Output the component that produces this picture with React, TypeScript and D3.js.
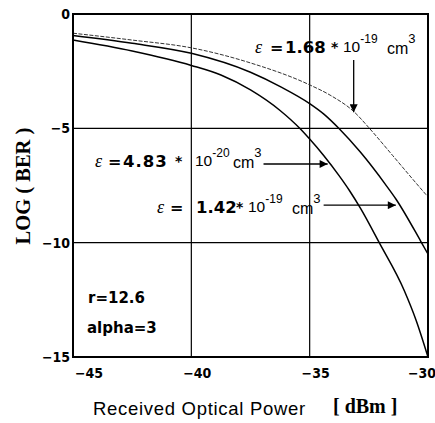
import React from "react";
import * as d3 from "d3";

// axis ticks
const xTicks = [-45, -40, -35, -30];
const yTicks = [0, -5, -10, -15];
const xGrid = [-40, -35];
const yGrid = [-5, -10];

// eps = 1.68e-19 cm^3 (thin dashed curve)
const powerA = [-45, -42.5, -40, -37.5, -35, -34.1, -33.1, -32.5, -31.5, -30.5, -30];
const berA = [-0.84, -1.14, -1.48, -2.14, -3.1, -3.57, -4.3, -4.97, -6.18, -7.4, -8.0];

// eps = 1.42e-19 cm^3
const powerB = [-45, -42.5, -40, -37.5, -36.2, -35, -34.4, -33.75, -32.85, -31.8, -31.35, -30.3, -30];
const berB = [-0.94, -1.28, -1.72, -2.55, -3.2, -3.92, -4.38, -5.02, -6.05, -7.45, -8.1, -9.95, -10.5];

// eps = 4.83e-20 cm^3
const powerC = [-45, -42.5, -40, -38.75, -37.5, -36.25, -35.4, -35, -34.4, -33.75, -33.3, -32.85, -32.06, -31.0, -30.5, -30];
const berC = [-1.14, -1.62, -2.25, -2.67, -3.32, -4.22, -5.02, -5.47, -6.2, -7.08, -7.75, -8.5, -10.0, -12.1, -13.4, -15.0];

const x = d3.scaleLinear().domain([-45, -30]).range([73, 428]);
const y = d3.scaleLinear().domain([0, -15]).range([14, 357]);

const line = d3
  .line<[number, number]>()
  .x(d => x(d[0]))
  .y(d => y(d[1]))
  .curve(d3.curveMonotoneX);

const zip = (a: number[], b: number[]) => a.map((v, i) => [v, b[i]] as [number, number]);

const fmt = d3.format("d");

const bold = "'DejaVu Sans', sans-serif";
const plain = "'Liberation Sans', Arial, sans-serif";
const tickFont = "'Liberation Sans Narrow', 'DejaVu Sans Condensed', 'Liberation Sans', sans-serif";

// annotation arrows in data units: [x1, y1, x2, y2]
const arrows = [
  [-33.14, -2.01, -33.14, -4.3],
  [-36.95, -6.56, -34.24, -6.56],
  [-34.41, -8.36, -31.36, -8.36],
];

const Eps = ({ px, base, eq, eqX, val, valX, valSp, starX, tenX, exp, cmX }: any) => (
  <g>
    <text x={px} y={base} fontFamily="'Liberation Serif', serif" fontStyle="italic" fontSize={18}>ε</text>
    <text x={eqX} y={base} fontFamily={bold} fontWeight="bold" fontSize={16}>{eq}</text>
    <text x={valX} y={base} fontFamily={bold} fontWeight="bold" fontSize={16.5} letterSpacing={valSp || 0}>{val}</text>
    <text x={starX} y={base - 1} fontFamily={bold} fontWeight="bold" fontSize={14}>*</text>
    <text x={tenX} y={base - 1} fontFamily={plain} fontSize={15.5}>
      10
      <tspan dy={-9} fontSize={12}>{exp}</tspan>
    </text>
    <text x={cmX} y={base + 1} fontFamily={plain} fontSize={16}>
      cm
      <tspan dy={-11} fontSize={13}>3</tspan>
    </text>
  </g>
);

const App = () => {
  return (
    <svg width={435} height={423} style={{ position: "absolute", left: 0, top: 0, background: "#fff" }}>
      <defs>
        <marker id="head" viewBox="0 0 10 10" refX="10" refY="5" markerWidth="9" markerHeight="8" orient="auto" markerUnits="userSpaceOnUse">
          <path d="M0,0 L10,5 L0,10 Z" fill="#000" />
        </marker>
      </defs>

      {/* grid */}
      {xGrid.map(t => (
        <line key={"gx" + t} x1={x(t)} x2={x(t)} y1={y(0)} y2={y(-15)} stroke="#000" strokeWidth={1.2} />
      ))}
      {yGrid.map(t => (
        <line key={"gy" + t} x1={x(-45)} x2={x(-30)} y1={y(t)} y2={y(t)} stroke="#000" strokeWidth={1.2} />
      ))}

      {/* curves */}
      <path d={line(zip(powerA, berA)) || ""} fill="none" stroke="#333" strokeWidth={1} strokeDasharray="4,1.5" />
      <path d={line(zip(powerB, berB)) || ""} fill="none" stroke="#000" strokeWidth={1.5} />
      <path d={line(zip(powerC, berC)) || ""} fill="none" stroke="#000" strokeWidth={1.5} />

      {/* frame */}
      <rect x={x(-45)} y={y(0)} width={x(-30) - x(-45)} height={y(-15) - y(0)} fill="none" stroke="#000" strokeWidth={2} />

      {/* y tick labels */}
      {yTicks.map(t => (
        <text key={"yt" + t} x={70} y={y(t) + 5} textAnchor="end" fontFamily={tickFont} fontWeight="bold" fontSize={14}>
          {fmt(t)}
        </text>
      ))}
      {/* x tick labels */}
      {xTicks.map((t, i) => (
        <text
          key={"xt" + t}
          x={i === 0 ? x(t) + 2 : i === xTicks.length - 1 ? x(t) + 8 : x(t) + 6}
          y={378}
          textAnchor={i === 0 ? "start" : i === xTicks.length - 1 ? "end" : "middle"}
          fontFamily={tickFont}
          fontWeight="bold"
          fontSize={14}
        >
          {fmt(t)}
        </text>
      ))}

      {/* axis titles */}
      <text x={93} y={415} fontFamily={plain} fontSize={18.5} letterSpacing={0.7}>Received Optical Power</text>
      <text x={333} y={413} fontFamily="'Liberation Serif', serif" fontWeight="bold" fontSize={20}>[ dBm ]</text>
      <text transform="translate(30,186) rotate(-90)" textAnchor="middle" fontFamily="'Liberation Serif', serif" fontWeight="bold" fontSize={20.5}>
        LOG ( BER )
      </text>

      {/* parameters */}
      <text x={88} y={303} fontFamily={bold} fontWeight="bold" fontSize={15}>r=12.6</text>
      <text x={87} y={333} fontFamily={bold} fontWeight="bold" fontSize={15}>alpha=3</text>

      {/* annotations */}
      <Eps px={255} base={53} eq="=" eqX={270} val="1.68" valX={285} starX={331} tenX={343} exp="-19" cmX={387} />
      <Eps px={95} base={167} eq="=" eqX={108} val="4.83" valX={123} valSp={1} starX={175} tenX={195} exp="-20" cmX={233} />
      <Eps px={157} base={213} eq="=" eqX={170} val="1.42" valX={196} starX={236} tenX={248} exp="-19" cmX={292} />

      {arrows.map((a, i) => (
        <line key={"ar" + i} x1={x(a[0])} y1={y(a[1])} x2={x(a[2])} y2={y(a[3])} stroke="#000" strokeWidth={1.3} markerEnd="url(#head)" />
      ))}
    </svg>
  );
};

export default App;
